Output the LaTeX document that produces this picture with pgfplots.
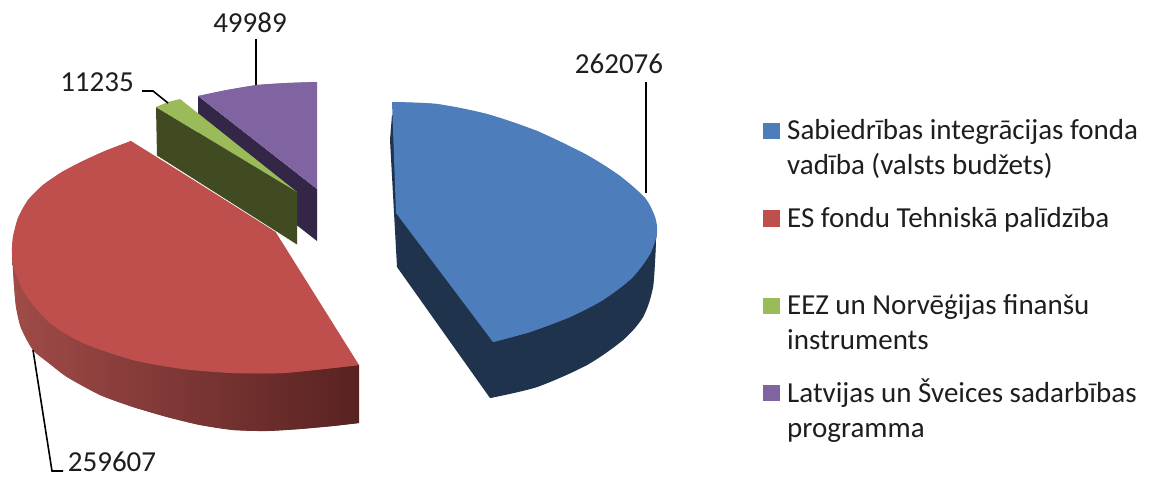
\documentclass[border=0pt]{standalone}
\usepackage{pgfplots}
\pgfplotsset{compat=1.18}
\usepackage{fontspec}
\setmainfont{Carlito}
\definecolor{bluetop}{RGB}{77,126,187}
\definecolor{blueside}{RGB}{31,51,77}
\definecolor{redtop}{RGB}{190,79,76}
\definecolor{redL}{RGB}{160,75,72}
\definecolor{redR}{RGB}{88,34,33}
\definecolor{greentop}{RGB}{155,187,89}
\definecolor{greenside}{RGB}{64,75,34}
\definecolor{purpletop}{RGB}{128,100,162}
\definecolor{purpleside}{RGB}{51,38,70}
\definecolor{txt}{RGB}{30,30,30}
\tikzset{lab/.style={font=\fontsize{29}{34}\selectfont, text=txt, inner sep=0pt}}
\begin{document}
\begin{tikzpicture}
\begin{axis}[
  scale only axis, width=1152pt, height=479pt,
  xmin=0, xmax=1152, ymin=0, ymax=479, y dir=reverse,
  hide axis, clip=false,
]
% page extent
\addplot[fill=white, draw=none] coordinates {(0,0)(1152,0)(1152,479)(0,479)};
% purple slice
\addplot[fill=purpleside, draw=none] coordinates {(198,96)(317,189)(317,241)(198,148)};
\addplot[fill=purpletop, draw=none] coordinates {(198,96)(227,90)(257,85)(287,83)(317,82)(317,189)};
\addplot[fill=purpletop, draw=none, smooth] coordinates {(198,96)(227,90)(257,85)(287,83)(317,82)};
% red slice: side
\addplot[left color=redL, right color=redR, draw=none] coordinates {(12,253)(14,285)(16,307)(21,328)(33,350)(50,364)(67,377)(100,395)(133,407)(167,417)(200,425)(233,430)(267,431)(300,429)(333,426)(359,423)(359,365)(133,330)};
\addplot[left color=redL, right color=redR, draw=none, smooth] coordinates {(12,253)(14,285)(16,307)(21,328)(33,350)(50,364)(67,377)(100,395)(133,407)(167,417)(200,425)(233,430)(267,431)(300,429)(333,426)(359,423)};
% red slice: top
\addplot[fill=redtop, draw=none] coordinates {(131,141)(105,151)(83,161)(62,172)(43,185)(28,200)(18,218)(13,237)(12,253)(15,272)(27,297)(50,323)(83,343)(133,360)(183,369)(233,373)(283,373)(333,368)(359,365)(275,231)};
\addplot[fill=redtop, draw=none, smooth] coordinates {(131,141)(105,151)(83,161)(62,172)(43,185)(28,200)(18,218)(13,237)(12,253)(15,272)(27,297)(50,323)(83,343)(133,360)(183,369)(233,373)(283,373)(333,368)(359,365)};
% green slice
\addplot[fill=greenside, draw=none] coordinates {(156,107)(297,192)(297,245)(157,156)};
\addplot[draw=white, line width=0.6pt] coordinates {(157,156)(297,245)};
\addplot[fill=greentop, draw=none] coordinates {(156,107)(168,102)(180,99)(297,192)};
% blue slice
\addplot[fill=blueside, draw=none] coordinates {(392,115)(390,140)(397,267)(490,398)(537,387)(587,365)(623,340)(643,317)(653,287)(656,240)(657,233)};
\addplot[fill=blueside, draw=none, smooth] coordinates {(490,398)(537,387)(587,365)(623,340)(643,317)(653,287)(656,240)};
\addplot[fill=bluetop, draw=none] coordinates {(392,102)(437,104)(487,114)(537,131)(587,155)(620,176)(645,198)(655,217)(657,233)(650,254)(632,278)(603,300)(570,317)(530,332)(493,342)(396,213)};
\addplot[fill=bluetop, draw=none, smooth] coordinates {(392,102)(437,104)(487,114)(537,131)(587,155)(620,176)(645,198)(655,217)(657,233)(650,254)(632,278)(603,300)(570,317)(530,332)(493,342)};
% leader lines
\addplot[draw=black, line width=1.6pt] coordinates {(256,39)(256,85)};
\addplot[draw=black, line width=1.6pt] coordinates {(142,91)(153,91)(168,103)};
\addplot[draw=black, line width=1.6pt] coordinates {(646,82)(646,193)};
\addplot[draw=black, line width=1.6pt] coordinates {(33,350)(52,471)(63,471)};
% data labels
\node[lab, anchor=center] at (axis cs:250,23) {49989};
\node[lab, anchor=center] at (axis cs:97,82) {11235};
\node[lab, anchor=center] at (axis cs:619,64) {262076};
\node[lab, anchor=center] at (axis cs:112,462) {259607};
% legend
\addplot[fill=bluetop, draw=none] coordinates {(763,123)(780,123)(780,139)(763,139)};
\addplot[fill=redtop, draw=none] coordinates {(763,210)(780,210)(780,227)(763,227)};
\addplot[fill=greentop, draw=none] coordinates {(763,298)(780,298)(780,314)(763,314)};
\addplot[fill=purpletop, draw=none] coordinates {(763,385)(780,385)(780,401)(763,401)};
\node[lab, anchor=base west] at (axis cs:787,139) {Sabiedrības integrācijas fonda};
\node[lab, anchor=base west] at (axis cs:787,174) {vadība (valsts budžets)};
\node[lab, anchor=base west] at (axis cs:787,227) {ES fondu Tehniskā palīdzība};
\node[lab, anchor=base west] at (axis cs:787,314) {EEZ un Norvēģijas finanšu};
\node[lab, anchor=base west] at (axis cs:787,349) {instruments};
\node[lab, anchor=base west] at (axis cs:787,402) {Latvijas un Šveices sadarbības};
\node[lab, anchor=base west] at (axis cs:787,437) {programma};
\end{axis}
\end{tikzpicture}
\end{document}
